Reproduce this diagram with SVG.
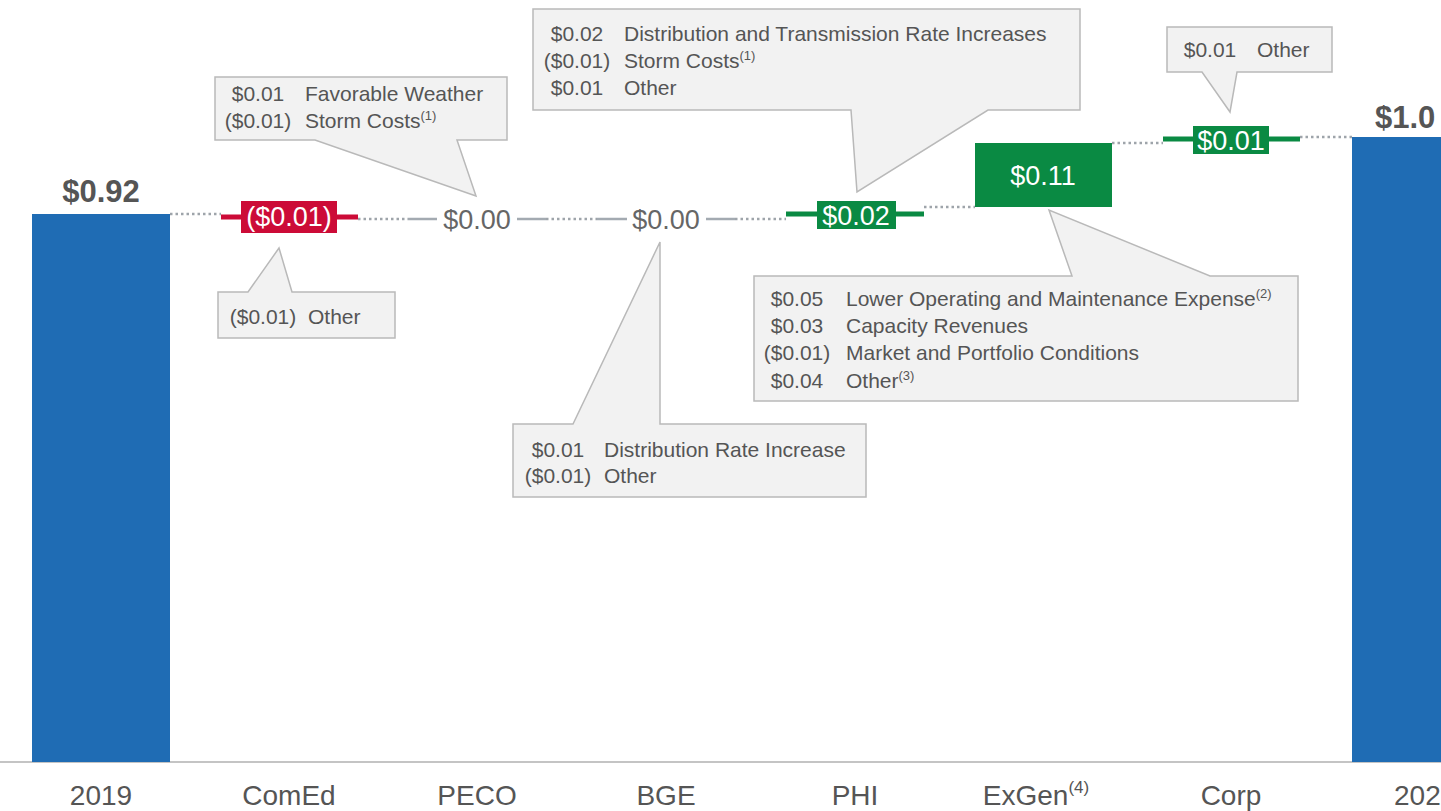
<svg xmlns="http://www.w3.org/2000/svg" width="1441" height="811" viewBox="0 0 1441 811">
<style>
.bar{fill:#1f6cb4}
.red{fill:#cc0b37}
.redl{stroke:#cc0b37;stroke-width:5}
.grn{fill:#0a8a43}
.grnl{stroke:#0a8a43;stroke-width:5}
.lvl{stroke:#a3aab1;stroke-width:2.5}
.dot{stroke:#9ea4aa;stroke-width:2.5;stroke-dasharray:2.5 3}
.val{font-family:"Liberation Sans",Arial,sans-serif;font-size:27px;text-anchor:middle}
.wv{fill:#ffffff}
.gv{fill:#666666}
.tot{font-family:"Liberation Sans",Arial,sans-serif;font-size:31px;font-weight:bold;fill:#555555;text-anchor:middle}
.ax{font-family:"Liberation Sans",Arial,sans-serif;font-size:28px;fill:#555555;text-anchor:middle}
.co{fill:#f2f2f2;stroke:#b9b9b9;stroke-width:1.5}
.ct{font-family:"Liberation Sans",Arial,sans-serif;font-size:21px;fill:#555555}
.am{text-anchor:middle}
.sup{font-size:13px}
</style>
<g id="axis"><line x1="0" y1="762" x2="1441" y2="762" stroke="#c4c4c4" stroke-width="2"/></g>
<g id="connectors">
<line class="dot" x1="170" y1="214" x2="221" y2="214"/>
<line class="dot" x1="358" y1="219" x2="408" y2="219"/>
<line class="dot" x1="546" y1="219" x2="597" y2="219"/>
<line class="dot" x1="735" y1="219" x2="786" y2="219"/>
<line class="dot" x1="924" y1="207" x2="975" y2="207"/>
<line class="dot" x1="1112" y1="143" x2="1163" y2="143"/>
<line class="dot" x1="1300" y1="137" x2="1352" y2="137"/>
</g>
<g id="n2019">
<rect class="bar" x="32" y="214" width="138" height="548"/>
<text class="tot" x="101" y="202">$0.92</text>
<text class="ax" x="101" y="805">2019</text>
</g>
<g id="ncomed">
<line class="redl" x1="221" y1="217" x2="358" y2="217"/>
<rect class="red" x="241" y="201" width="96" height="32"/>
<text class="val wv" x="289" y="226">($0.01)</text>
<text class="ax" x="289" y="805">ComEd</text>
</g>
<g id="npeco">
<line class="lvl" x1="408" y1="219" x2="437" y2="219"/>
<line class="lvl" x1="517" y1="219" x2="546" y2="219"/>
<text class="val gv" x="477" y="229">$0.00</text>
<text class="ax" x="477" y="805">PECO</text>
</g>
<g id="nbge">
<line class="lvl" x1="597" y1="219" x2="627" y2="219"/>
<line class="lvl" x1="706" y1="219" x2="735" y2="219"/>
<text class="val gv" x="666" y="229">$0.00</text>
<text class="ax" x="666" y="805">BGE</text>
</g>
<g id="nphi">
<line class="grnl" x1="786" y1="214" x2="924" y2="214"/>
<rect class="grn" x="817" y="201" width="79" height="28"/>
<text class="val wv" x="856" y="225">$0.02</text>
<text class="ax" x="855" y="805">PHI</text>
</g>
<g id="nexgen">
<rect class="grn" x="975" y="143" width="137" height="64"/>
<text class="val wv" x="1043" y="185">$0.11</text>
<text class="ax" x="1036" y="805">ExGen<tspan font-size="17" dy="-12">(4)</tspan></text>
</g>
<g id="ncorp">
<line class="grnl" x1="1163" y1="139" x2="1300" y2="139"/>
<rect class="grn" x="1193" y="126" width="76" height="28"/>
<text class="val wv" x="1231" y="150">$0.01</text>
<text class="ax" x="1231" y="805">Corp</text>
</g>
<g id="n2020">
<rect class="bar" x="1352" y="137" width="138" height="625"/>
<text class="tot" x="1375" y="128" text-anchor="start" style="text-anchor:start">$1.0</text>
<text class="ax" x="1394" y="805" style="text-anchor:start">202</text>
</g>
<g id="callout-comed-top">
<path class="co" d="M215,77 H507 V140 H457 L476,196 L315,140 H215 Z"/>
<text class="ct am" x="258" y="101">$0.01</text><text class="ct" x="305" y="101">Favorable Weather</text>
<text class="ct am" x="258" y="128">($0.01)</text><text class="ct" x="305" y="128">Storm Costs<tspan class="sup" dy="-8">(1)</tspan></text>
</g>
<g id="callout-comed-bottom">
<path class="co" d="M218,292 H248 L279,248 L292,292 H395 V338 H218 Z"/>
<text class="ct am" x="263" y="324">($0.01)</text><text class="ct" x="308" y="324">Other</text>
</g>
<g id="callout-phi">
<path class="co" d="M533,9 H1080 V110 H988 L857,192 L851,110 H533 Z"/>
<text class="ct am" x="577" y="41">$0.02</text><text class="ct" x="624" y="41">Distribution and Transmission Rate Increases</text>
<text class="ct am" x="577" y="68">($0.01)</text><text class="ct" x="624" y="68">Storm Costs<tspan class="sup" dy="-8">(1)</tspan></text>
<text class="ct am" x="577" y="95">$0.01</text><text class="ct" x="624" y="95">Other</text>
</g>
<g id="callout-corp">
<path class="co" d="M1167,27 H1332 V72 H1237 L1230,112 L1202,72 H1167 Z"/>
<text class="ct am" x="1210" y="57">$0.01</text><text class="ct" x="1257" y="57">Other</text>
</g>
<g id="callout-bge">
<path class="co" d="M513,424 H573 L660,242 L660,424 H866 V497 H513 Z"/>
<text class="ct am" x="558" y="457">$0.01</text><text class="ct" x="604" y="457">Distribution Rate Increase</text>
<text class="ct am" x="558" y="483">($0.01)</text><text class="ct" x="604" y="483">Other</text>
</g>
<g id="callout-exgen">
<path class="co" d="M754,276 H1072 L1049,210 L1210,276 H1298 V401 H754 Z"/>
<text class="ct am" x="797" y="306">$0.05</text><text class="ct" x="846" y="306">Lower Operating and Maintenance Expense<tspan class="sup" dy="-8">(2)</tspan></text>
<text class="ct am" x="797" y="333">$0.03</text><text class="ct" x="846" y="333">Capacity Revenues</text>
<text class="ct am" x="797" y="360">($0.01)</text><text class="ct" x="846" y="360">Market and Portfolio Conditions</text>
<text class="ct am" x="797" y="388">$0.04</text><text class="ct" x="846" y="388">Other<tspan class="sup" dy="-8">(3)</tspan></text>
</g>
</svg>
